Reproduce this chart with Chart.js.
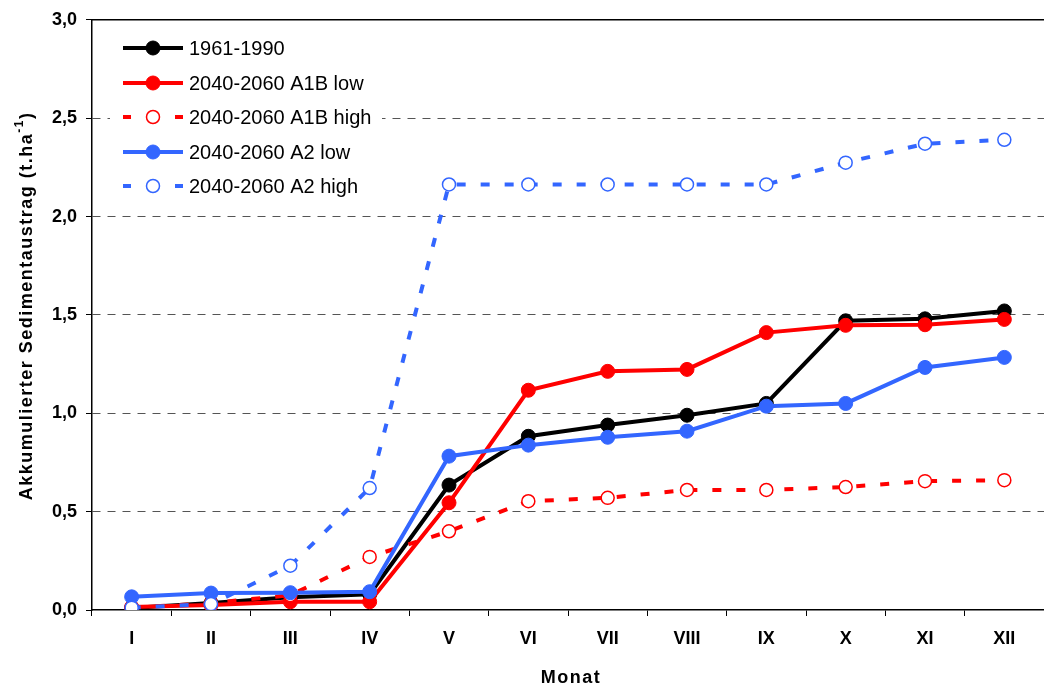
<!DOCTYPE html>
<html>
<head>
<meta charset="utf-8">
<script src="https://cdn.jsdelivr.net/npm/chart.js@4/dist/chart.umd.min.js"></script>
<style>
html,body{margin:0;padding:0;background:#fff;overflow:hidden;}
#wrap{position:relative;width:1052px;height:688px;}
</style>
</head>
<body>
<div id="wrap"><canvas id="c"></canvas></div>
<script>
const months = ['I','II','III','IV','V','VI','VII','VIII','IX','X','XI','XII'];
const ref1961 = [0.01,0.035,0.065,0.08,0.635,0.883,0.94,0.99,1.05,1.47,1.48,1.52];
const a1bLow = [0.015,0.025,0.042,0.042,0.545,1.117,1.213,1.223,1.41,1.447,1.45,1.477];
const a1bHigh = [0.012,0.035,0.075,0.27,0.40,0.553,0.57,0.61,0.61,0.625,0.655,0.66];
const a2Low = [0.067,0.086,0.088,0.093,0.782,0.838,0.878,0.909,1.036,1.05,1.233,1.284];
const a2High = [0.012,0.03,0.225,0.62,2.163,2.163,2.163,2.163,2.163,2.274,2.37,2.39];
const seriesNames = ['1961-1990','2040-2060 A1B low','2040-2060 A1B high','2040-2060 A2 low','2040-2060 A2 high'];

const FONT = '"Liberation Sans", Arial, sans-serif';
const RED = '#ff0000', BLUE = '#3366ff', BLACK = '#000000';
const DASH = [9,15];

function solid(label, data, color, order){
  return {label, data, borderColor: color, backgroundColor: color, borderWidth: 4,
    pointRadius: 7, pointBackgroundColor: color, pointBorderColor: color, pointBorderWidth: 1,
    tension: 0, order, dashed: false};
}
function dashed(label, data, color, order){
  return {label, data, borderColor: color, backgroundColor: '#fff', borderWidth: 4, borderDash: DASH,
    pointRadius: 6.5, pointBackgroundColor: '#ffffff', pointBorderColor: color, pointBorderWidth: 1.5,
    tension: 0, order, dashed: true};
}

const datasets = [
  solid(seriesNames[0], ref1961, BLACK, 5),
  solid(seriesNames[1], a1bLow, RED, 4),
  dashed(seriesNames[2], a1bHigh, RED, 3),
  solid(seriesNames[3], a2Low, BLUE, 2),
  dashed(seriesNames[4], a2High, BLUE, 1)
];

const decor = {
  id: 'decor',
  afterDraw(chart){
    const ctx = chart.ctx, a = chart.chartArea;
    ctx.save();
    // top border
    ctx.strokeStyle = '#000'; ctx.lineWidth = 1.5; ctx.setLineDash([]);
    ctx.beginPath(); ctx.moveTo(a.left, a.top); ctx.lineTo(a.right, a.top); ctx.stroke();
    // legend background
    ctx.fillStyle = '#fff';
    ctx.fillRect(110, 28, 272, 174);
    // legend
    const rowsY = [48, 83, 117, 152, 186];
    const x0 = 123, x1 = 183, xm = 153;
    chart.data.datasets.forEach((ds, i) => {
      const y = rowsY[i];
      ctx.strokeStyle = ds.borderColor; ctx.lineWidth = 4; ctx.setLineDash([]);
      if (ds.dashed){
        ctx.beginPath(); ctx.moveTo(x0, y); ctx.lineTo(x0+8, y); ctx.moveTo(x1-8, y); ctx.lineTo(x1, y); ctx.stroke();
      } else {
        ctx.beginPath(); ctx.moveTo(x0, y); ctx.lineTo(x1, y); ctx.stroke();
      }
      ctx.beginPath(); ctx.arc(xm, y, ds.pointRadius, 0, Math.PI*2);
      ctx.fillStyle = ds.pointBackgroundColor; ctx.fill();
      ctx.lineWidth = ds.pointBorderWidth; ctx.strokeStyle = ds.pointBorderColor; ctx.stroke();
      ctx.fillStyle = '#000'; ctx.font = '20px ' + FONT; ctx.textAlign = 'left'; ctx.textBaseline = 'middle';
      ctx.fillText(ds.label, 189, y + 1);
    });
    // x title
    ctx.font = 'bold 18px ' + FONT; ctx.fillStyle = '#000';
    ctx.textAlign = 'center'; ctx.textBaseline = 'middle';
    try { ctx.letterSpacing = '1.5px'; } catch(e) {}
    ctx.fillText('Monat', 571, 678);
    // y title with superscript
    ctx.translate(27, 306); ctx.rotate(-Math.PI/2);
    const main = 'Akkumulierter Sedimentaustrag (t.ha';
    const sup = '-1';
    const end = ')';
    ctx.font = 'bold 18px ' + FONT;
    const wMain = ctx.measureText(main).width;
    const wEnd = ctx.measureText(end).width;
    ctx.font = 'bold 12px ' + FONT;
    const wSup = ctx.measureText(sup).width;
    const total = wMain + wSup + wEnd;
    let x = -total/2;
    ctx.textAlign = 'left'; ctx.textBaseline = 'middle';
    ctx.font = 'bold 18px ' + FONT;
    ctx.fillText(main, x, 0); x += wMain;
    ctx.font = 'bold 12px ' + FONT;
    ctx.fillText(sup, x, -7); x += wSup;
    ctx.font = 'bold 18px ' + FONT;
    ctx.fillText(end, x, 0);
    ctx.restore();
  }
};

new Chart(document.getElementById('c'), {
  type: 'line',
  data: { labels: months, datasets },
  options: {
    responsive: true, maintainAspectRatio: false, animation: false,
    layout: { padding: { top: 19, right: 1, left: 0, bottom: 0 } },
    plugins: { legend: { display: false }, tooltip: { enabled: false } },
    scales: {
      x: {
        type: 'category', offset: true,
        grid: { offset: true, drawOnChartArea: false, drawTicks: true, tickLength: 6, tickColor: '#000', tickWidth: 1 },
        border: { display: true, color: '#000', width: 1.5 },
        ticks: { font: { family: FONT, size: 18, weight: 'bold' }, color: '#000', padding: 12, maxRotation: 0, autoSkip: false },
        afterFit(s){ s.height = 78; }
      },
      y: {
        min: 0, max: 3,
        grid: {
          color: (c) => (c.tick && (c.tick.value === 0 || c.tick.value === 3)) ? 'rgba(0,0,0,0)' : '#555555',
          lineWidth: 1, drawTicks: true, tickLength: 6, tickColor: '#000', tickBorderDash: [], tickWidth: 1
        },
        border: { display: true, color: '#000', width: 1.5, dash: [8,7] },
        ticks: { stepSize: 0.5, font: { family: FONT, size: 18, weight: 'bold' }, color: '#000', padding: 9,
          callback: (v) => Number(v).toFixed(1).replace('.', ',') },
        afterFit(s){ s.width = 92; }
      }
    }
  },
  plugins: [decor]
});
</script>
</body>
</html>
